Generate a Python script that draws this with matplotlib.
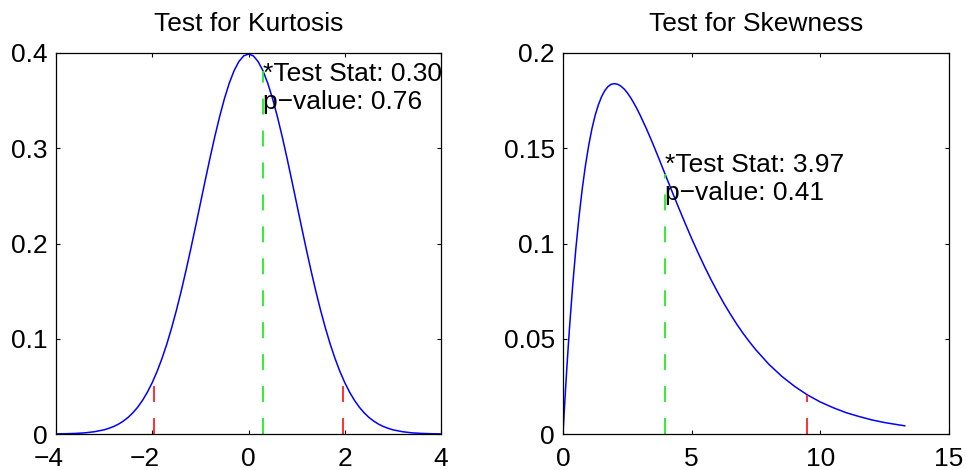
import matplotlib
matplotlib.use("Agg")
import matplotlib.pyplot as plt
from matplotlib.transforms import ScaledTranslation

plt.rcParams['font.family'] = ['Liberation Sans', 'DejaVu Sans']

# ---------------- data ----------------
# Left panel: density curve for the kurtosis test
kurt_x = [-4.0, -3.8, -3.6, -3.4, -3.2, -3.0, -2.9, -2.8, -2.7, -2.6, -2.5, -2.4, -2.3, -2.2, -2.1,
          -2.0, -1.9, -1.8, -1.7, -1.6, -1.5, -1.4, -1.3, -1.2, -1.1, -1.0, -0.9, -0.8, -0.7,
          -0.6, -0.5, -0.4, -0.3, -0.2, -0.1, 0.0, 0.1, 0.2, 0.3, 0.4, 0.5, 0.6, 0.7, 0.8, 0.9,
          1.0, 1.1, 1.2, 1.3, 1.4, 1.5, 1.6, 1.7, 1.8, 1.9, 2.0, 2.1, 2.2, 2.3, 2.4, 2.5, 2.6,
          2.7, 2.8, 2.9, 3.0, 3.2, 3.4, 3.6, 3.8, 4.0]
kurt_y = [0.0001, 0.0003, 0.0006, 0.0012, 0.0024, 0.0044, 0.0060, 0.0079, 0.0104, 0.0136, 0.0175,
          0.0224, 0.0283, 0.0355, 0.0440, 0.0540, 0.0656, 0.0790, 0.0940, 0.1109, 0.1295,
          0.1497, 0.1714, 0.1942, 0.2179, 0.2420, 0.2661, 0.2897, 0.3123, 0.3332, 0.3521,
          0.3683, 0.3814, 0.3910, 0.3970, 0.3989, 0.3970, 0.3910, 0.3814, 0.3683, 0.3521,
          0.3332, 0.3123, 0.2897, 0.2661, 0.2420, 0.2179, 0.1942, 0.1714, 0.1497, 0.1295,
          0.1109, 0.0940, 0.0790, 0.0656, 0.0540, 0.0440, 0.0355, 0.0283, 0.0224, 0.0175,
          0.0136, 0.0104, 0.0079, 0.0060, 0.0044, 0.0024, 0.0012, 0.0006, 0.0003, 0.0001]
kurt_crit = [-1.96, 1.96]
kurt_crit_h = [0.0584, 0.0584]
kurt_stat = 0.30
kurt_stat_h = 0.3814
kurt_pval = 0.76
kurt_text_y = 0.363

# Right panel: density curve for the skewness test
skew_x = [0.0, 0.05, 0.1, 0.15, 0.2, 0.25, 0.375, 0.5, 0.625, 0.75, 0.875, 1.0, 1.125, 1.25,
          1.375, 1.5, 1.625, 1.75, 1.875, 2.0, 2.125, 2.25, 2.375, 2.5, 2.625, 2.75, 2.875,
          3.0, 3.25, 3.5, 3.75, 4.0, 4.25, 4.5, 4.75, 5.0, 5.25, 5.5, 5.75, 6.0, 6.25, 6.5,
          6.75, 7.0, 7.25, 7.5, 8.0, 8.5, 9.0, 9.5, 10.0, 10.5, 11.0, 11.5, 12.0, 12.5, 13.0,
          13.28]
skew_y = [0.0, 0.0122, 0.0238, 0.0348, 0.0452, 0.0552, 0.0777, 0.0974, 0.1143, 0.1289, 0.1412,
          0.1516, 0.1603, 0.1673, 0.1728, 0.1771, 0.1803, 0.1824, 0.1836, 0.1839, 0.1836,
          0.1826, 0.1811, 0.1791, 0.1766, 0.1738, 0.1707, 0.1673, 0.1600, 0.1521, 0.1438,
          0.1353, 0.1269, 0.1186, 0.1105, 0.1026, 0.0951, 0.0879, 0.0811, 0.0747, 0.0686,
          0.0630, 0.0577, 0.0528, 0.0483, 0.0441, 0.0366, 0.0303, 0.0250, 0.0205, 0.0168,
          0.0138, 0.0112, 0.0092, 0.0074, 0.0060, 0.0049, 0.0043]
skew_crit = [9.49]
skew_crit_h = [0.0206]
skew_stat = 3.97
skew_stat_h = 0.1364
skew_pval = 0.41
skew_text_y = 0.134

titles = ["Test for Kurtosis", "Test for Skewness"]
kurt_xticks = [-4, -2, 0, 2, 4]
kurt_xticklabels = ["\u22124", "\u22122", "0", "2", "4"]
kurt_yticks = [0, 0.1, 0.2, 0.3, 0.4]
kurt_yticklabels = ["0", "0.1", "0.2", "0.3", "0.4"]
skew_xticks = [0, 5, 10, 15]
skew_xticklabels = ["0", "5", "10", "15"]
skew_yticks = [0, 0.05, 0.1, 0.15, 0.2]
skew_yticklabels = ["0", "0.05", "0.1", "0.15", "0.2"]

# ---------------- figure ----------------
W, H = 966, 470
fig = plt.figure(figsize=(W / 100, H / 100), dpi=100)
ax1 = fig.add_axes([56 / W, 36 / H, 385 / W, 381 / H])
ax2 = fig.add_axes([563 / W, 36 / H, 386 / W, 381 / H])

FS = 19
LW = 1.1
VLW = 1.3
DASH = 11.5  # points


def vline(ax, x, h, color):
    ax.plot([x, x], [0, h], color=color, lw=VLW, dashes=(DASH / VLW, DASH / VLW),
            solid_capstyle='butt', dash_capstyle='butt')


def style(ax, xlim, ylim, xt, xtl, yt, ytl, title):
    ax.set_xlim(*xlim)
    ax.set_ylim(*ylim)
    ax.set_xticks(xt)
    ax.set_xticklabels(xtl)
    ax.set_yticks(yt)
    ax.set_yticklabels(ytl)
    ax.tick_params(direction='in', length=3, width=0.8, top=True, right=True,
                   labelsize=FS, color='black')
    ax.tick_params(axis='x', pad=9.3)
    ax.tick_params(axis='y', pad=6.0)
    for s in ax.spines.values():
        s.set_linewidth(0.9)
    ax.set_title(title, fontsize=FS, pad=15.5)
    # center the digit (not the minus sign) under the tick, as in the reference
    for tick in ax.xaxis.get_major_ticks():
        lab = tick.label1
        if lab.get_text().startswith("\u2212"):
            lab.set_horizontalalignment('right')
            lab.set_transform(lab.get_transform() +
                              ScaledTranslation(7.3 / 100, 0, fig.dpi_scale_trans))


# left panel
ax1.plot(kurt_x, kurt_y, color='#0000ff', lw=LW)
for cx, ch in zip(kurt_crit, kurt_crit_h):
    vline(ax1, cx, ch, '#ff2020')
vline(ax1, kurt_stat, kurt_stat_h, '#20ee20')
ax1.text(kurt_stat, kurt_text_y,
         "*Test Stat: %.2f\np\u2212value: %.2f" % (kurt_stat, kurt_pval),
         fontsize=FS, ha='left', va='center', linespacing=1.2)
style(ax1, (-4, 4), (0, 0.4), kurt_xticks, kurt_xticklabels,
      kurt_yticks, kurt_yticklabels, titles[0])

# right panel
ax2.plot(skew_x, skew_y, color='#0000ff', lw=LW)
for cx, ch in zip(skew_crit, skew_crit_h):
    vline(ax2, cx, ch, '#ff2020')
vline(ax2, skew_stat, skew_stat_h, '#20ee20')
ax2.text(skew_stat, skew_text_y,
         "*Test Stat: %.2f\np\u2212value: %.2f" % (skew_stat, skew_pval),
         fontsize=FS, ha='left', va='center', linespacing=1.2)
style(ax2, (0, 15), (0, 0.2), skew_xticks, skew_xticklabels,
      skew_yticks, skew_yticklabels, titles[1])

fig.savefig("out.png", dpi=100)
